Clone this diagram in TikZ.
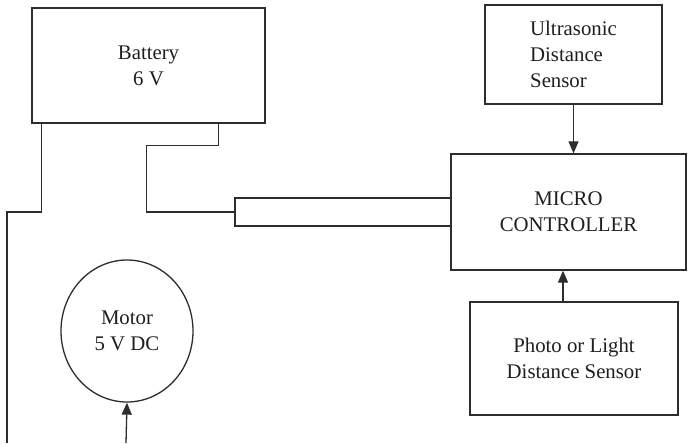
\documentclass[tikz,border=0pt]{standalone}
\usepackage{fontspec}
\setmainfont{Liberation Serif}
\usepackage{tikz}
\usetikzlibrary{arrows.meta,positioning,calc,shapes.geometric}
\definecolor{wire}{RGB}{45,45,45}
\definecolor{inkhead}{RGB}{30,30,30}

\begin{document}
\begin{tikzpicture}[x=0.5pt,y=-0.5pt,line join=miter,
  blk/.style={draw=wire,line width=0.65pt,rectangle,inner sep=0pt,align=center,
    font=\fontsize{10.4}{13}\selectfont,text=inkhead},
  link/.style={draw=wire,line width=0.65pt},
  feed/.style={link,-{Triangle[length=6pt,width=5pt]}}]
  \useasboundingbox (0,0) rectangle (688,443);
  % blocks
  \node[blk,minimum width=116.5pt,minimum height=57.5pt] (bat) at (148.5,65.5) {Battery\\6 V};
  \node[blk,minimum width=88.5pt,minimum height=49.5pt,align=left] (ultra) at (573.5,54.5)
      {Ultrasonic\\Distance\\Sensor};
  \node[blk,minimum width=117.5pt,minimum height=58pt] (mc) at (568.5,212) {MICRO\\CONTROLLER};
  \node[blk,minimum width=104pt,minimum height=56.5pt] (photo) at (574,358.5)
      {Photo or Light\\Distance Sensor};
  \node[blk,minimum width=108pt,minimum height=14pt] (bar) at (343,212) {};
  \node[blk,ellipse,minimum width=66pt,minimum height=71pt] (motor) at (127,331) {Motor\\5 V DC};
  % free wire ends at the lower edge
  \coordinate (gnd) at (7,443);
  \coordinate (drv) at (126,443);
  \coordinate (pin) at ($(photo.north)+(-11,0)$);
  % sensors into the controller
  \draw[feed] (ultra.south) -- (ultra.south |- mc.north);
  \draw[feed] (pin) -- (pin |- mc.south);
  % battery leads
  \draw[link] ($(bat.south west)+(10,0)$) |- ($(gnd)+(0,-231)$) -- (gnd);
  \draw[link] ($(bat.south east)+(-47,0)$) -- ++(0,22) -| ($(bar.west)+(-88,0)$) -- (bar.west);
  % motor drive
  \draw[feed] (drv) -- (motor.south);
\end{tikzpicture}
\end{document}
